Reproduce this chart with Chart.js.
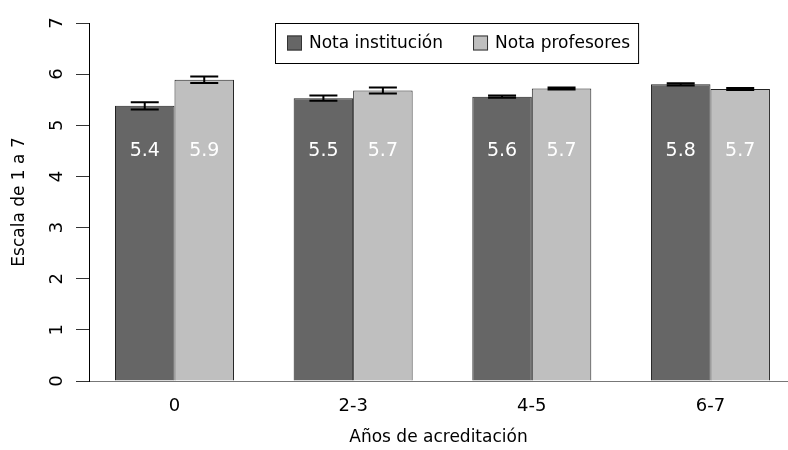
<!DOCTYPE html>
<html>
<head>
<meta charset="utf-8">
<script src="https://cdn.jsdelivr.net/npm/chart.js@4/dist/chart.umd.min.js"></script>
<style>
  html, body { margin: 0; padding: 0; background: #fff; }
  #wrap { width: 788px; height: 450px; }
</style>
</head>
<body>
<div id="wrap"><canvas id="grafico"></canvas></div>
<script>
// datos
const categorias = ['0', '2-3', '4-5', '6-7'];
const notaInstitucion = [5.38, 5.53, 5.56, 5.80];
const notaProfesores = [5.89, 5.68, 5.72, 5.71];
const errInstitucion = [0.07, 0.05, 0.02, 0.02];
const errProfesores = [0.065, 0.06, 0.02, 0.02];
const ticksY = [0, 1, 2, 3, 4, 5, 6, 7];

const fuente = "'DejaVu Sans', sans-serif";
const colorOscuro = '#666666';
const colorClaro = '#bfbfbf';

function puntos(valores) {
	return valores.map((v, i) => ({ x: i, y: v }));
}

// barras de error, etiquetas de valor, ticks del eje y y leyenda
const extras = {
	id: 'extras',
	afterDatasetsDraw(chart) {
		const ctx = chart.ctx;
		const y = chart.scales.y;
		const errores = [errInstitucion, errProfesores];
		ctx.save();
		chart.data.datasets.forEach((ds, d) => {
			const meta = chart.getDatasetMeta(d);
			meta.data.forEach((bar, i) => {
				const v = ds.data[i].y;
				const e = errores[d][i];
				const yTop = y.getPixelForValue(v + e);
				const yBot = y.getPixelForValue(v - e);
				ctx.strokeStyle = '#000';
				ctx.lineWidth = 2;
				ctx.beginPath();
				ctx.moveTo(bar.x, yTop); ctx.lineTo(bar.x, yBot);
				ctx.moveTo(bar.x - 14, yTop); ctx.lineTo(bar.x + 14, yTop);
				ctx.moveTo(bar.x - 14, yBot); ctx.lineTo(bar.x + 14, yBot);
				ctx.stroke();
				// etiqueta blanca dentro de la barra
				ctx.fillStyle = '#fff';
				ctx.font = '19px ' + fuente;
				ctx.textAlign = 'center';
				ctx.textBaseline = 'middle';
				ctx.fillText(v.toFixed(1), bar.x, y.getPixelForValue(4.5));
			});
		});
		ctx.restore();
	},
	afterDraw(chart) {
		const ctx = chart.ctx;
		const y = chart.scales.y;
		ctx.save();
		// etiquetas del eje y giradas
		ctx.fillStyle = '#000';
		ctx.font = '18px ' + fuente;
		ctx.textAlign = 'center';
		ctx.textBaseline = 'middle';
		ticksY.forEach(t => {
			ctx.save();
			ctx.translate(57, y.getPixelForValue(t));
			ctx.rotate(-Math.PI / 2);
			ctx.fillText(String(t), 0, 0);
			ctx.restore();
		});

		// leyenda con marco
		ctx.font = '17px ' + fuente;
		const ds = chart.data.datasets;
		const w0 = ctx.measureText(ds[0].label).width;
		const w1 = ctx.measureText(ds[1].label).width;
		const caja = 15, sep = 7, hueco = 30, padIzq = 12, padDer = 8;
		const ancho = padIzq + caja + sep + w0 + hueco + caja + sep + w1 + padDer;
		const x0 = 275, y0 = 23, alto = 40;
		ctx.strokeStyle = '#000';
		ctx.lineWidth = 1;
		ctx.strokeRect(x0 + 0.5, y0 + 0.5, ancho, alto);
		let x = x0 + padIzq;
		const yc = y0 + alto / 2;
		[0, 1].forEach(d => {
			ctx.fillStyle = ds[d].backgroundColor;
			ctx.fillRect(x, yc - caja / 2, caja, caja);
			ctx.strokeStyle = '#333';
			ctx.strokeRect(x + 0.5, yc - caja / 2 + 0.5, caja - 1, caja - 1);
			x += caja + sep;
			ctx.fillStyle = '#000';
			ctx.textAlign = 'left';
			ctx.fillText(ds[d].label, x, yc + 1);
			x += (d === 0 ? w0 : w1) + hueco;
		});
		ctx.restore();
	}
};

new Chart(document.getElementById('grafico'), {
	type: 'bar',
	data: {
		datasets: [
			{
				label: 'Nota institución',
				data: puntos(notaInstitucion),
				backgroundColor: colorOscuro,
				borderColor: '#222',
				borderWidth: 1
			},
			{
				label: 'Nota profesores',
				data: puntos(notaProfesores),
				backgroundColor: colorClaro,
				borderColor: '#222',
				borderWidth: 1
			}
		]
	},
	options: {
		responsive: true,
		maintainAspectRatio: false,
		animation: false,
		devicePixelRatio: 1,
		layout: { padding: { top: 23, left: 0, right: 0, bottom: 0 } },
		datasets: { bar: { categoryPercentage: 0.666, barPercentage: 1.0 } },
		plugins: {
			legend: { display: false },
			tooltip: { enabled: false }
		},
		scales: {
			x: {
				type: 'linear',
				min: -0.4785,
				max: 3.434,
				offset: false,
				grid: { display: false, drawTicks: false },
				border: { display: true, color: '#777', width: 1 },
				afterBuildTicks: s => { s.ticks = categorias.map((c, i) => ({ value: i })); },
				afterFit: s => { s.height = 69; },
				ticks: {
					padding: 15,
					color: '#000',
					font: { family: fuente, size: 18 },
					callback: v => categorias[v],
					maxRotation: 0,
					autoSkip: false
				},
				title: {
					display: true,
					text: 'Años de acreditación',
					color: '#000',
					font: { family: fuente, size: 17 },
					padding: { top: 4, bottom: 2 }
				}
			},
			y: {
				min: 0,
				max: 7,
				afterFit: s => { s.width = 89; },
				afterBuildTicks: s => { s.ticks = ticksY.map(v => ({ value: v })); },
				grid: { drawOnChartArea: false, drawTicks: true, tickLength: 13, color: '#333' },
				border: { display: true, color: '#000', width: 1 },
				ticks: { display: false },
				title: {
					display: true,
					text: 'Escala de 1 a 7',
					color: '#000',
					font: { family: fuente, size: 17 },
					padding: { top: 9, bottom: 0 }
				}
			}
		}
	},
	plugins: [extras]
});
</script>
</body>
</html>
